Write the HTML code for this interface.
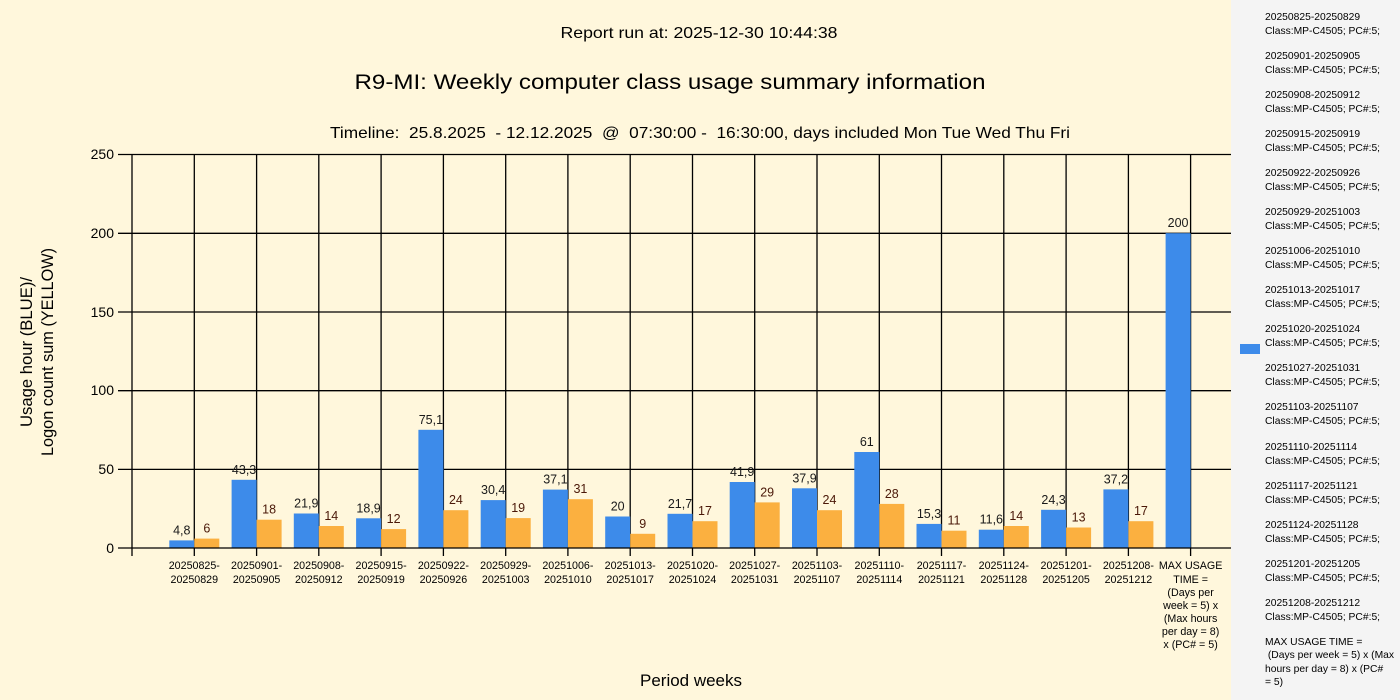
<!DOCTYPE html>
<html><head><meta charset="utf-8"><style>
html,body{margin:0;padding:0;width:1400px;height:700px;overflow:hidden;background:#fff7dc}
text{font-family:"Liberation Sans",sans-serif;white-space:pre}
</style></head><body>
<svg width="1400" height="700" xmlns="http://www.w3.org/2000/svg" xml:space="preserve">
<rect x="0" y="0" width="1231" height="700" fill="#fff7dc"/>
<rect x="1231" y="0" width="169" height="700" fill="#f4f4f4"/>
<g fill="#000" text-anchor="middle">
<text x="699" y="38" font-size="16" textLength="277" lengthAdjust="spacingAndGlyphs">Report run at: 2025-12-30 10:44:38</text>
<text x="670" y="89" font-size="21" textLength="631" lengthAdjust="spacingAndGlyphs">R9-MI: Weekly computer class usage summary information</text>
<text x="700" y="138" font-size="16" textLength="740" lengthAdjust="spacingAndGlyphs">Timeline:  25.8.2025  - 12.12.2025  @  07:30:00 -  16:30:00, days included Mon Tue Wed Thu Fri</text>
<text x="691" y="686" font-size="17" textLength="102" lengthAdjust="spacingAndGlyphs">Period weeks</text>
<text transform="translate(32,352) rotate(-90)" font-size="17" textLength="150" lengthAdjust="spacingAndGlyphs">Usage hour (BLUE)/</text>
<text transform="translate(53,352) rotate(-90)" font-size="17" textLength="208" lengthAdjust="spacingAndGlyphs">Logon count sum (YELLOW)</text>
</g>
<g stroke="#000" stroke-width="1.3">
<line x1="118" y1="154.5" x2="1231" y2="154.5"/>
<line x1="118" y1="233.3" x2="1231" y2="233.3"/>
<line x1="118" y1="312" x2="1231" y2="312"/>
<line x1="118" y1="390.7" x2="1231" y2="390.7"/>
<line x1="118" y1="469.4" x2="1231" y2="469.4"/>
<line x1="132" y1="154" x2="132" y2="556"/>
<line x1="194.3" y1="154" x2="194.3" y2="556"/>
<line x1="256.6" y1="154" x2="256.6" y2="556"/>
<line x1="318.8" y1="154" x2="318.8" y2="556"/>
<line x1="381.1" y1="154" x2="381.1" y2="556"/>
<line x1="443.4" y1="154" x2="443.4" y2="556"/>
<line x1="505.7" y1="154" x2="505.7" y2="556"/>
<line x1="567.9" y1="154" x2="567.9" y2="556"/>
<line x1="630.2" y1="154" x2="630.2" y2="556"/>
<line x1="692.5" y1="154" x2="692.5" y2="556"/>
<line x1="754.7" y1="154" x2="754.7" y2="556"/>
<line x1="817" y1="154" x2="817" y2="556"/>
<line x1="879.3" y1="154" x2="879.3" y2="556"/>
<line x1="941.5" y1="154" x2="941.5" y2="556"/>
<line x1="1003.8" y1="154" x2="1003.8" y2="556"/>
<line x1="1066.1" y1="154" x2="1066.1" y2="556"/>
<line x1="1128.4" y1="154" x2="1128.4" y2="556"/>
<line x1="1190.6" y1="154" x2="1190.6" y2="556"/>
</g>
<g font-size="14" text-anchor="end" fill="#000">
<text x="114" y="159">250</text><text x="114" y="238">200</text><text x="114" y="317">150</text>
<text x="114" y="395">100</text><text x="114" y="474">50</text><text x="114" y="553">0</text>
</g>
<g fill="#3d8bea">
<rect x="169.3" y="540.4" width="25" height="7.6"/>
<rect x="231.6" y="479.8" width="25" height="68.2"/>
<rect x="293.8" y="513.5" width="25" height="34.5"/>
<rect x="356.1" y="518.3" width="25" height="29.7"/>
<rect x="418.4" y="429.8" width="25" height="118.2"/>
<rect x="480.7" y="500.1" width="25" height="47.9"/>
<rect x="542.9" y="489.6" width="25" height="58.4"/>
<rect x="605.2" y="516.5" width="25" height="31.5"/>
<rect x="667.5" y="513.8" width="25" height="34.2"/>
<rect x="729.7" y="482" width="25" height="66"/>
<rect x="792" y="488.3" width="25" height="59.7"/>
<rect x="854.3" y="452" width="25" height="96"/>
<rect x="916.5" y="523.9" width="25" height="24.1"/>
<rect x="978.8" y="529.7" width="25" height="18.3"/>
<rect x="1041.1" y="509.8" width="25" height="38.2"/>
<rect x="1103.4" y="489.4" width="25" height="58.6"/>
<rect x="1165.6" y="233.2" width="25" height="314.8"/>
</g>
<g fill="#fbb040">
<rect x="194.3" y="538.6" width="25" height="9.4"/>
<rect x="256.6" y="519.7" width="25" height="28.3"/>
<rect x="318.8" y="526" width="25" height="22"/>
<rect x="381.1" y="529.1" width="25" height="18.9"/>
<rect x="443.4" y="510.2" width="25" height="37.8"/>
<rect x="505.7" y="518.1" width="25" height="29.9"/>
<rect x="567.9" y="499.2" width="25" height="48.8"/>
<rect x="630.2" y="533.8" width="25" height="14.2"/>
<rect x="692.5" y="521.2" width="25" height="26.8"/>
<rect x="754.7" y="502.4" width="25" height="45.6"/>
<rect x="817" y="510.2" width="25" height="37.8"/>
<rect x="879.3" y="503.9" width="25" height="44.1"/>
<rect x="941.5" y="530.7" width="25" height="17.3"/>
<rect x="1003.8" y="526" width="25" height="22"/>
<rect x="1066.1" y="527.5" width="25" height="20.5"/>
<rect x="1128.4" y="521.2" width="25" height="26.8"/>
</g>
<line x1="118" y1="548" x2="1231" y2="548" stroke="#000" stroke-width="1.3"/>
<g font-size="12.5" text-anchor="middle" fill="#1a1a1a">
<text x="181.8" y="534.4">4,8</text><text x="244.1" y="473.8">43,3</text><text x="306.3" y="507.5">21,9</text>
<text x="368.6" y="512.3">18,9</text><text x="430.9" y="423.8">75,1</text><text x="493.2" y="494.1">30,4</text>
<text x="555.4" y="483.6">37,1</text><text x="617.7" y="510.5">20</text><text x="680" y="507.8">21,7</text>
<text x="742.2" y="476">41,9</text><text x="804.5" y="482.3">37,9</text><text x="866.8" y="446">61</text>
<text x="929" y="517.9">15,3</text><text x="991.3" y="523.7">11,6</text><text x="1053.6" y="503.8">24,3</text>
<text x="1115.9" y="483.4">37,2</text><text x="1178.1" y="227.2">200</text>
</g>
<g font-size="12.5" text-anchor="middle" fill="#4a1808">
<text x="206.8" y="532.6">6</text><text x="269.1" y="513.7">18</text><text x="331.3" y="520">14</text>
<text x="393.6" y="523.1">12</text><text x="455.9" y="504.2">24</text><text x="518.2" y="512.1">19</text>
<text x="580.4" y="493.2">31</text><text x="642.7" y="527.8">9</text><text x="705" y="515.2">17</text>
<text x="767.2" y="496.4">29</text><text x="829.5" y="504.2">24</text><text x="891.8" y="497.9">28</text>
<text x="954" y="524.7">11</text><text x="1016.3" y="520">14</text><text x="1078.6" y="521.5">13</text>
<text x="1140.9" y="515.2">17</text>
</g>
<g font-size="10.7" text-anchor="middle" fill="#000">
<text x="194.3" y="569">20250825-</text><text x="194.3" y="583">20250829</text>
<text x="256.6" y="569">20250901-</text><text x="256.6" y="583">20250905</text>
<text x="318.8" y="569">20250908-</text><text x="318.8" y="583">20250912</text>
<text x="381.1" y="569">20250915-</text><text x="381.1" y="583">20250919</text>
<text x="443.4" y="569">20250922-</text><text x="443.4" y="583">20250926</text>
<text x="505.7" y="569">20250929-</text><text x="505.7" y="583">20251003</text>
<text x="567.9" y="569">20251006-</text><text x="567.9" y="583">20251010</text>
<text x="630.2" y="569">20251013-</text><text x="630.2" y="583">20251017</text>
<text x="692.5" y="569">20251020-</text><text x="692.5" y="583">20251024</text>
<text x="754.7" y="569">20251027-</text><text x="754.7" y="583">20251031</text>
<text x="817" y="569">20251103-</text><text x="817" y="583">20251107</text>
<text x="879.3" y="569">20251110-</text><text x="879.3" y="583">20251114</text>
<text x="941.5" y="569">20251117-</text><text x="941.5" y="583">20251121</text>
<text x="1003.8" y="569">20251124-</text><text x="1003.8" y="583">20251128</text>
<text x="1066.1" y="569">20251201-</text><text x="1066.1" y="583">20251205</text>
<text x="1128.4" y="569">20251208-</text><text x="1128.4" y="583">20251212</text>
<text x="1190.6" y="569">MAX USAGE</text><text x="1190.6" y="583">TIME =</text>
<text x="1190.6" y="596">(Days per</text><text x="1190.6" y="609">week = 5) x</text>
<text x="1190.6" y="622">(Max hours</text><text x="1190.6" y="635">per day = 8)</text>
<text x="1190.6" y="648">x (PC# = 5)</text>
</g>
<rect x="1240" y="344" width="20" height="10" fill="#3d8bea"/>
<g font-size="10.3" fill="#000">
<text x="1265" y="20">20250825-20250829</text><text x="1265" y="34">Class:MP-C4505; PC#:5;</text>
<text x="1265" y="59">20250901-20250905</text><text x="1265" y="73">Class:MP-C4505; PC#:5;</text>
<text x="1265" y="98">20250908-20250912</text><text x="1265" y="112">Class:MP-C4505; PC#:5;</text>
<text x="1265" y="137">20250915-20250919</text><text x="1265" y="151">Class:MP-C4505; PC#:5;</text>
<text x="1265" y="176">20250922-20250926</text><text x="1265" y="190">Class:MP-C4505; PC#:5;</text>
<text x="1265" y="215">20250929-20251003</text><text x="1265" y="229">Class:MP-C4505; PC#:5;</text>
<text x="1265" y="254">20251006-20251010</text><text x="1265" y="268">Class:MP-C4505; PC#:5;</text>
<text x="1265" y="293">20251013-20251017</text><text x="1265" y="307">Class:MP-C4505; PC#:5;</text>
<text x="1265" y="332">20251020-20251024</text><text x="1265" y="346">Class:MP-C4505; PC#:5;</text>
<text x="1265" y="371">20251027-20251031</text><text x="1265" y="385">Class:MP-C4505; PC#:5;</text>
<text x="1265" y="410">20251103-20251107</text><text x="1265" y="424">Class:MP-C4505; PC#:5;</text>
<text x="1265" y="450">20251110-20251114</text><text x="1265" y="464">Class:MP-C4505; PC#:5;</text>
<text x="1265" y="489">20251117-20251121</text><text x="1265" y="503">Class:MP-C4505; PC#:5;</text>
<text x="1265" y="528">20251124-20251128</text><text x="1265" y="542">Class:MP-C4505; PC#:5;</text>
<text x="1265" y="567">20251201-20251205</text><text x="1265" y="581">Class:MP-C4505; PC#:5;</text>
<text x="1265" y="606">20251208-20251212</text><text x="1265" y="620">Class:MP-C4505; PC#:5;</text>
<text x="1265" y="645">MAX USAGE TIME =</text><text x="1265" y="658"> (Days per week = 5) x (Max</text>
<text x="1265" y="672">hours per day = 8) x (PC#</text><text x="1265" y="685">= 5)</text>
</g>
</svg>
</body></html>
